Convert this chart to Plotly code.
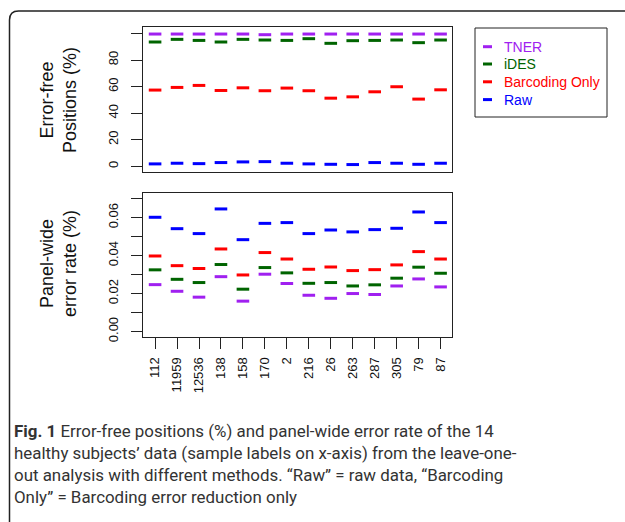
import plotly.graph_objects as go

samples = ["112", "11959", "12536", "138", "158", "170", "2", "216", "26", "263", "287", "305", "79", "87"]
methods = ["TNER", "iDES", "Barcoding Only", "Raw"]
colors = {"TNER": "#a020f0", "iDES": "#006400", "Barcoding Only": "#ff0000", "Raw": "#0000ff"}

errfree_tner = [99.6, 99.6, 99.6, 99.6, 99.6, 99.1, 99.6, 99.6, 99.6, 99.6, 99.6, 99.6, 99.6, 99.6]
errfree_ides = [93.6, 95.6, 94.8, 93.6, 95.6, 95.1, 94.8, 96.1, 92.6, 94.6, 94.8, 95.1, 93.1, 95.1]
errfree_barcoding = [57.4, 59.4, 60.9, 57.1, 59.1, 56.9, 58.9, 56.9, 51.3, 52.3, 56.1, 59.9, 50.6, 57.6]
errfree_raw = [1.8, 2.3, 2.0, 2.8, 3.3, 3.5, 2.3, 1.8, 1.5, 1.3, 2.8, 2.3, 1.5, 2.3]

rate_tner = [0.0247, 0.0212, 0.0181, 0.0289, 0.0160, 0.0302, 0.0253, 0.0191, 0.0175, 0.0200, 0.0195, 0.0240, 0.0277, 0.0235]
rate_ides = [0.0325, 0.0275, 0.0258, 0.0353, 0.0223, 0.0337, 0.0309, 0.0254, 0.0258, 0.0240, 0.0246, 0.0281, 0.0339, 0.0307]
rate_barcoding = [0.0398, 0.0347, 0.0332, 0.0435, 0.0298, 0.0416, 0.0382, 0.0328, 0.0340, 0.0321, 0.0326, 0.0351, 0.0421, 0.0382]
rate_raw = [0.0602, 0.0542, 0.0516, 0.0646, 0.0484, 0.0570, 0.0574, 0.0516, 0.0535, 0.0525, 0.0537, 0.0544, 0.0630, 0.0574]

top_ticks = [0, 20, 40, 60, 80, 100]
top_ticktext = ["0", "20", "40", "60", "80", ""]
bot_ticks = [0.00, 0.01, 0.02, 0.03, 0.04, 0.05, 0.06, 0.07]
bot_ticktext = ["0.00", "", "0.02", "", "0.04", "", "0.06", ""]

caption = ("<b>Fig. 1</b> Error-free positions (%) and panel-wide error rate of the 14<br>"
           "healthy subjects’ data (sample labels on x-axis) from the leave-one-<br>"
           "out analysis with different methods. “Raw” = raw data, “Barcoding<br>"
           "Only” = Barcoding error reduction only")

W, H = 625, 522
def px(x): return x / W
def py(y): return 1 - y / H

top_series = dict(zip(methods, [errfree_tner, errfree_ides, errfree_barcoding, errfree_raw]))
bot_series = dict(zip(methods, [rate_tner, rate_ides, rate_barcoding, rate_raw]))
xpos = list(range(1, len(samples) + 1))

fig = go.Figure()
for m in methods:
    c = colors[m]
    mk = dict(symbol="line-ew", size=9, color=c, line=dict(width=3, color=c))
    fig.add_trace(go.Scatter(x=xpos, y=top_series[m], mode="markers", marker=mk,
                             name=m, showlegend=False, xaxis="x", yaxis="y"))
    fig.add_trace(go.Scatter(x=xpos, y=bot_series[m], mode="markers", marker=mk,
                             name=m, showlegend=False, xaxis="x2", yaxis="y2"))

axfont = dict(family="Liberation Sans, Arial", size=13, color="#111")
xrange_ = [0.45, 14.52]
fig.update_layout(
    width=W, height=H, margin=dict(l=0, r=0, t=0, b=0, autoexpand=False),
    paper_bgcolor="white", plot_bgcolor="white",
    showlegend=False,
    xaxis=dict(domain=[px(143), px(452)], range=xrange_, showticklabels=False, ticks="",
               showline=True, mirror=True, linecolor="#222", linewidth=1, showgrid=False,
               zeroline=False, anchor="y"),
    yaxis=dict(domain=[py(172), py(27)], range=[-4.3, 104.9], tickvals=top_ticks,
               ticktext=top_ticktext, tickangle=-90, ticks="outside", ticklen=11,
               tickcolor="#222", showline=True, mirror=True, linecolor="#222", linewidth=1,
               showgrid=False, zeroline=False, tickfont=axfont, ticklabelstandoff=8,
               anchor="x"),
    xaxis2=dict(domain=[px(143), px(452)], range=xrange_, tickvals=xpos, ticktext=samples,
                tickangle=-90, ticks="outside", ticklen=11, tickcolor="#222",
                showline=True, mirror=True, linecolor="#222", linewidth=1, showgrid=False,
                zeroline=False, tickfont=axfont, anchor="y2", ticklabelstandoff=3),
    yaxis2=dict(domain=[py(337), py(193)], range=[-0.0029, 0.0730], tickvals=bot_ticks,
                ticktext=bot_ticktext, tickangle=-90, ticks="outside", ticklen=11,
                tickcolor="#222", showline=True, mirror=True, linecolor="#222", linewidth=1,
                showgrid=False, zeroline=False, tickfont=axfont, ticklabelstandoff=8,
                anchor="x2"),
)

# axis titles
tfont = dict(family="Liberation Sans, Arial", size=18, color="#111")
fig.add_annotation(text="Error-free<br>Positions (%)", x=px(58), y=py(100), xref="paper",
                   yref="paper", textangle=-90, showarrow=False, font=tfont,
                   xanchor="center", yanchor="middle")
fig.add_annotation(text="Panel-wide<br>error rate (%)", x=px(58), y=py(263), xref="paper",
                   yref="paper", textangle=-90, showarrow=False, font=tfont,
                   xanchor="center", yanchor="middle")

# legend (drawn manually to match R's legend box)
fig.add_shape(type="rect", xref="paper", yref="paper", x0=px(475), x1=px(607),
              y0=py(117), y1=py(28), line=dict(color="#222", width=1))
leg_y = [46.7, 64.0, 81.8, 99.6]
for m, ly in zip(methods, leg_y):
    c = colors[m]
    fig.add_shape(type="line", xref="paper", yref="paper", x0=px(483), x1=px(492),
                  y0=py(ly), y1=py(ly), line=dict(color=c, width=3))
    fig.add_annotation(text=m, x=px(502), y=py(ly), xref="paper", yref="paper",
                       xanchor="left", yanchor="middle", showarrow=False,
                       font=dict(family="Liberation Sans, Arial", size=14, color=c))

# caption
fig.add_annotation(text=caption, x=px(12), y=py(419), xref="paper", yref="paper",
                   xanchor="left", yanchor="top", align="left", showarrow=False,
                   font=dict(family="Roboto, Open Sans", size=16.9, color="#333"))

# figure frame
fig.add_shape(type="path", xref="paper", yref="paper",
              path=f"M {px(9.5)},{py(522)} L {px(9.5)},{py(20)} Q {px(9.5)},{py(11)} {px(18.5)},{py(11)} L {px(625)},{py(11)}",
              line=dict(color="#222", width=1.5))

fig.write_html("out.html")
